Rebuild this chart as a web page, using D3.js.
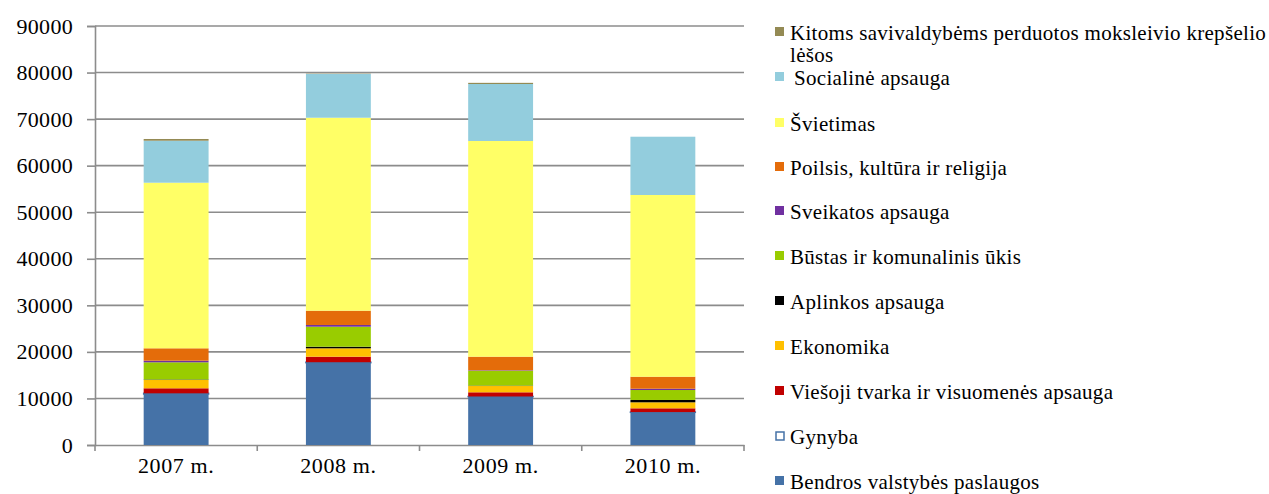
<!DOCTYPE html>
<html><head><meta charset="utf-8">
<script src="https://cdn.jsdelivr.net/npm/d3@7"></script>
<style>body{margin:0;background:#fff}svg{display:block}</style>
</head><body><svg id="c" width="1269" height="494"></svg>
<script>
const years = ["2007 m.","2008 m.","2009 m.","2010 m."];
const seriesNames = ["Bendros valstybės paslaugos","Gynyba","Viešoji tvarka ir visuomenės apsauga","Ekonomika","Aplinkos apsauga","Būstas ir komunalinis ūkis","Sveikatos apsauga","Poilsis, kultūra ir religija","Švietimas","Socialinė apsauga","Kitoms savivaldybėms perduotos moksleivio krepšelio lėšos"];
const bendros   = [10950, 17680, 10370, 7020];
const gynyba    = [150, 100, 50, 50];
const viesoji   = [1080, 1190, 900, 810];
const ekonomika = [1780, 1800, 1350, 1290];
const aplinkos  = [100, 340, 80, 500];
const bustas    = [3700, 4300, 3210, 2140];
const sveikatos = [350, 370, 100, 280];
const poilsis   = [2660, 3070, 2910, 2580];
const svietimas = [35570, 41450, 46330, 39030];
const socialine = [9020, 9400, 12240, 12520];
const kitoms    = [370, 80, 250, 0];
const yTicks = [0,10000,20000,30000,40000,50000,60000,70000,80000,90000];

const seriesValues = [bendros,gynyba,viesoji,ekonomika,aplinkos,bustas,sveikatos,poilsis,svietimas,socialine,kitoms];
const colors = ["#4572A7","#ffffff","#C00000","#FFC000","#000000","#99CC00","#7030A0","#E46C0A","#FFFF66","#93CDDD","#948A54"];
const FONT = "'Liberation Serif', 'Times New Roman', serif";

const svg = d3.select("#c");
const L = 95, R = 744, T = 26, B = 445;
const x = d3.scaleBand().domain(years).range([L, R]).paddingInner(0.6).paddingOuter(0.3);
const y = d3.scaleLinear().domain([0, 90000]).range([B, T]);

svg.append("g").selectAll("line").data(yTicks.slice(1)).join("line")
  .attr("x1", L).attr("x2", R).attr("y1", d=>y(d)).attr("y2", d=>y(d))
  .attr("stroke", "#8c8c8c").attr("stroke-width", 1.6);

const ya = svg.append("g").attr("transform", `translate(${L},0)`)
  .call(d3.axisLeft(y).tickValues(yTicks).tickSize(8).tickPadding(14).tickFormat(d3.format("d")));
ya.select(".domain").attr("stroke", "#8c8c8c").attr("stroke-width", 1.6);
ya.selectAll(".tick line").attr("stroke", "#8c8c8c").attr("stroke-width", 1.6);
ya.selectAll(".tick text").style("font-size", "22px").style("font-family", FONT).style("letter-spacing", "0.3px").attr("fill", "#000");

const xa = svg.append("g").attr("transform", `translate(0,${B})`)
  .call(d3.axisBottom(x).tickSize(0).tickPadding(12));
xa.select(".domain").attr("stroke", "#8c8c8c").attr("stroke-width", 1.6);
xa.selectAll(".tick text").style("font-size", "22px").style("font-family", FONT).style("letter-spacing", "0.6px").attr("fill", "#000");
svg.append("g").selectAll("line").data(d3.range(years.length+1)).join("line")
  .attr("x1", i => L + i*(R-L)/years.length).attr("x2", i => L + i*(R-L)/years.length)
  .attr("y1", B).attr("y2", B+6).attr("stroke", "#8c8c8c").attr("stroke-width", 1.6);

const table = years.map((yr, i) => { const o = {year: yr}; seriesNames.forEach((n, k) => o[n] = seriesValues[k][i]); return o; });
const stack = d3.stack().keys(seriesNames)(table);
stack.forEach((layer, k) => {
  svg.append("g").selectAll("rect").data(layer).join("rect")
    .attr("x", d => x(d.data.year)).attr("width", x.bandwidth())
    .attr("y", d => y(d[1])).attr("height", d => Math.max(0, y(d[0]) - y(d[1])))
    .attr("fill", colors[k])
    .attr("stroke", k === 1 ? "#4572A7" : "none").attr("stroke-width", k === 1 ? 1.5 : 0);
});

const legendRows = [
  {k:10, y:33}, {k:9, y:78}, {k:8, y:124}, {k:7, y:168}, {k:6, y:212}, {k:5, y:257},
  {k:4, y:302}, {k:3, y:347}, {k:2, y:392}, {k:1, y:437}, {k:0, y:482}
];
const lg = svg.append("g");
legendRows.forEach(r => {
  const k = r.k;
  lg.append("rect").attr("x", k===1?776:775).attr("y", r.y - 6 + (k===1?1:0)).attr("width", k===1?8:9).attr("height", k===1?8:9)
    .attr("fill", k===1 ? "#fff" : colors[k]).attr("stroke", k===1 ? "#4572A7" : "none").attr("stroke-width", 1.5);
  const t = lg.append("text").attr("x", k===9 ? 794 : 790).attr("y", r.y + 7)
    .style("font-size", "21px").style("font-family", FONT).style("letter-spacing", "0.3px").attr("fill", "#000");
  if (k === 10) {
    t.append("tspan").attr("x", 790).text("Kitoms savivaldybėms perduotos moksleivio krepšelio");
    t.append("tspan").attr("x", 790).attr("dy", 22).text("lėšos");
  } else {
    t.text(seriesNames[k]);
  }
});
</script></body></html>
